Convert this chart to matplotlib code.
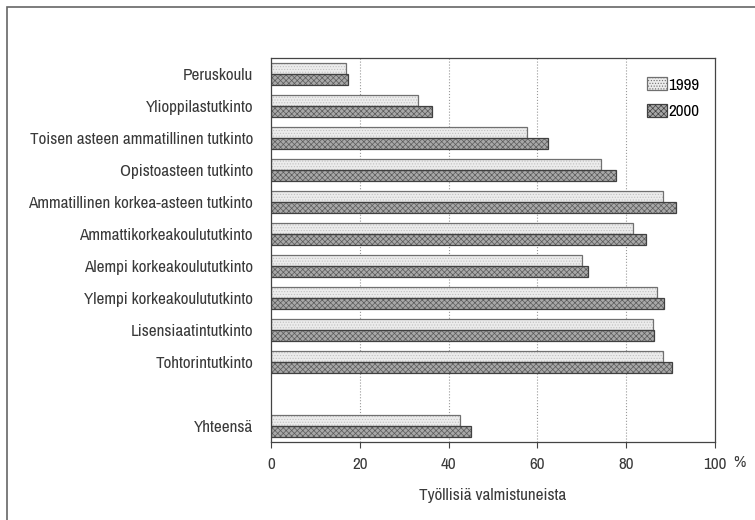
import numpy as np
import matplotlib
matplotlib.use('Agg')
import matplotlib.pyplot as plt
from matplotlib import font_manager as fm
from matplotlib.patches import Rectangle, Patch

# kapea fontti jos loytyy, muuten tavallinen Liberation Sans pienempana
fontti, venytys, koko = 'Liberation Sans', 'normal', 10
kapeat = [f for f in fm.fontManager.ttflist
          if ('Narrow' in f.name or 'Condensed' in f.name
              or f.stretch in ('condensed', 'semi-condensed', 'extra-condensed', 75, 87))
          and f.style == 'normal' and f.weight in (400, 'normal', 'regular')
          and 'Mono' not in f.name and 'Serif' not in f.name]
if kapeat:
    kapeat.sort(key=lambda f: (0 if 'Liberation' in f.name else 1, f.name))
    fontti, venytys, koko = kapeat[0].name, kapeat[0].stretch, 12.3

plt.rcParams['font.family'] = [fontti, 'DejaVu Sans']
plt.rcParams['font.stretch'] = venytys
plt.rcParams['font.weight'] = 'light'
plt.rcParams['hatch.linewidth'] = 0.5

# tutkinnot (ylhaalta alas), Yhteensa erikseen alimpana
tutkinnot = ['Peruskoulu', 'Ylioppilastutkinto', 'Toisen asteen ammatillinen tutkinto',
             'Opistoasteen tutkinto', 'Ammatillinen korkea-asteen tutkinto',
             'Ammattikorkeakoulututkinto', 'Alempi korkeakoulututkinto',
             'Ylempi korkeakoulututkinto', 'Lisensiaatintutkinto', 'Tohtorintutkinto',
             'Yhteensä']
v1999 = [16.8, 33.2, 57.6, 74.4, 88.4, 81.6, 70.0, 87.0, 86.0, 88.4, 42.5]
v2000 = [17.3, 36.2, 62.4, 77.6, 91.3, 84.4, 71.4, 88.6, 86.2, 90.3, 45.1]
xtiks = [0, 20, 40, 60, 80, 100]

pos = np.array(list(range(10)) + [11])  # tyhja rivi ennen Yhteensa
h = 0.35
teksti = '#3a3a3a'

fig = plt.figure(figsize=(7.55, 5.2), dpi=100)
# kehys kuvan ympari (oikea ja ala reuna rajautuvat pois)
fig.patches.append(Rectangle((0.009, -0.05), 1.2, 1.036, transform=fig.transFigure,
                             fill=False, edgecolor='#666666', linewidth=1.2))
ax = fig.add_axes([0.359, 0.15, 0.588, 0.7385])

# taytto + kuviointi, sitten reunaviiva erikseen
ax.barh(pos - h / 2, v1999, height=h, color='#ececec', edgecolor='#c0c0c0',
        hatch='......', linewidth=0)
ax.barh(pos + h / 2, v2000, height=h, color='#a8a8a8', edgecolor='#5a5a5a',
        hatch='xxxxxx', linewidth=0)
ax.barh(pos - h / 2, v1999, height=h, fill=False, edgecolor='#707070', linewidth=0.9)
ax.barh(pos + h / 2, v2000, height=h, fill=False, edgecolor='#404040', linewidth=0.9)

ax.set_xlim(0, 100)
ax.set_ylim(11.5, -0.5)
ax.set_xticks(xtiks)
ax.set_xticklabels([str(t) for t in xtiks], fontsize=koko, color=teksti)
ax.set_yticks(pos)
ax.set_yticklabels(tutkinnot, fontsize=koko, color=teksti)
ax.tick_params(axis='y', length=0, pad=13)
ax.tick_params(axis='x', length=4, width=0.8, pad=7, color='#444444')
for x in xtiks[1:-1]:
    ax.axvline(x, color='#999999', linestyle=':', linewidth=0.8, zorder=0)
for s in ax.spines.values():
    s.set_color('#444444')
    s.set_linewidth(0.9)

ax.set_xlabel('Työllisiä valmistuneista', fontsize=koko, color=teksti, labelpad=11)
ax.text(1.055, -0.053, '%', transform=ax.transAxes, fontsize=koko, color=teksti,
        ha='center', va='center')

kahvat = [Patch(facecolor='#ececec', edgecolor='#707070', hatch='......', linewidth=0.9),
          Patch(facecolor='#a8a8a8', edgecolor='#404040', hatch='xxxxxx', linewidth=0.9)]
ax.legend(kahvat, ['1999', '2000'], loc='upper right', frameon=False, fontsize=koko,
          handlelength=1.15, handleheight=0.8, handletextpad=0.1, labelspacing=0.65,
          bbox_to_anchor=(1.0, 0.99))

fig.savefig('out.png', dpi=100)
